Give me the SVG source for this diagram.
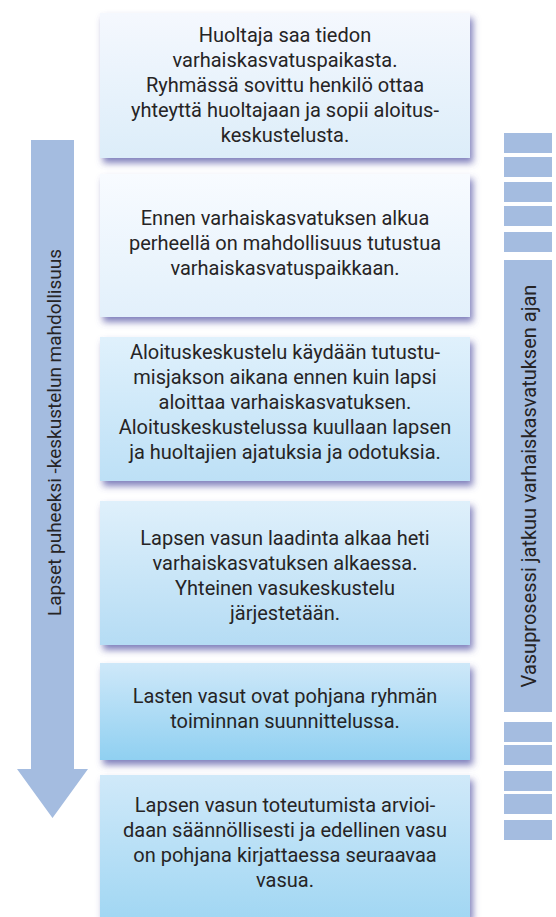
<svg xmlns="http://www.w3.org/2000/svg" width="556" height="917" viewBox="0 0 556 917">
<defs>
<style>
.t{font-family:Roboto,"Liberation Sans",sans-serif;font-size:20px;fill:#262425;text-anchor:middle}
.s{font-family:Roboto,"Liberation Sans",sans-serif;font-size:19px;fill:#262425;text-anchor:middle}
.bar{fill:#a4bce0}
.box{filter:url(#sh)}
</style>
<filter id="sh" x="-10%" y="-20%" width="125%" height="150%">
<feDropShadow dx="3" dy="5" stdDeviation="3.5" flood-color="#5656a6" flood-opacity="0.75"/>
</filter>
<linearGradient id="g1" x1="0" y1="0" x2="0" y2="1"><stop offset="0" stop-color="#f5f8fe"/><stop offset="1" stop-color="#dcedf9"/></linearGradient>
<linearGradient id="g2" x1="0" y1="0" x2="0" y2="1"><stop offset="0" stop-color="#f8fbff"/><stop offset="1" stop-color="#e2f0fb"/></linearGradient>
<linearGradient id="g3" x1="0" y1="0" x2="0" y2="1"><stop offset="0" stop-color="#e0f1fc"/><stop offset="1" stop-color="#bde0f6"/></linearGradient>
<linearGradient id="g4" x1="0" y1="0" x2="0" y2="1"><stop offset="0" stop-color="#dff0fb"/><stop offset="1" stop-color="#b5dcf4"/></linearGradient>
<linearGradient id="g5" x1="0" y1="0" x2="0" y2="1"><stop offset="0" stop-color="#cee8f9"/><stop offset="1" stop-color="#90d0f1"/></linearGradient>
<linearGradient id="g6" x1="0" y1="0" x2="0" y2="1"><stop offset="0" stop-color="#d0e9f9"/><stop offset="1" stop-color="#a2d7f3"/></linearGradient>
</defs>
<rect width="556" height="917" fill="#ffffff"/>

<g id="connectors">
<polygon id="left-arrow" class="bar" points="31,140 74,140 74,769 88,769 52.5,818 17,769 31,769"/>
<text class="s" transform="translate(61,432.5) rotate(-90)">Lapset puheeksi -keskustelun mahdollisuus</text>
</g>

<g id="right-bar">
<rect class="bar" x="504" y="133" width="48" height="20"/>
<rect class="bar" x="504" y="157" width="48" height="20"/>
<rect class="bar" x="504" y="182" width="48" height="20"/>
<rect class="bar" x="504" y="206" width="48" height="20"/>
<rect class="bar" x="504" y="232" width="48" height="20"/>
<rect class="bar" x="504" y="260" width="48" height="452"/>
<rect class="bar" x="504" y="722" width="48" height="20"/>
<rect class="bar" x="504" y="745" width="48" height="20"/>
<rect class="bar" x="504" y="771" width="48" height="20"/>
<rect class="bar" x="504" y="794" width="48" height="20"/>
<rect class="bar" x="504" y="820" width="48" height="20"/>
<text class="t" transform="translate(536,486) rotate(-90)">Vasuprosessi jatkuu varhaiskasvatuksen ajan</text>
</g>

<g id="box1">
<rect class="box" x="100" y="13" width="370" height="145" fill="url(#g1)"/>
<text class="t" x="285" y="42">Huoltaja saa tiedon</text>
<text class="t" x="285" y="67">varhaiskasvatuspaikasta.</text>
<text class="t" x="285" y="92">Ryhmässä sovittu henkilö ottaa</text>
<text class="t" x="285" y="117">yhteyttä huoltajaan ja sopii aloitus-</text>
<text class="t" x="285" y="142">keskustelusta.</text>
</g>

<g id="box2">
<rect class="box" x="100" y="174" width="370" height="143" fill="url(#g2)"/>
<text class="t" x="285" y="225">Ennen varhaiskasvatuksen alkua</text>
<text class="t" x="285" y="250">perheellä on mahdollisuus tutustua</text>
<text class="t" x="285" y="275">varhaiskasvatuspaikkaan.</text>
</g>

<g id="box3">
<rect class="box" x="100" y="337" width="370" height="144" fill="url(#g3)"/>
<text class="t" x="285" y="359">Aloituskeskustelu käydään tutustu-</text>
<text class="t" x="285" y="384">misjakson aikana ennen kuin lapsi</text>
<text class="t" x="285" y="409">aloittaa varhaiskasvatuksen.</text>
<text class="t" x="285" y="434">Aloituskeskustelussa kuullaan lapsen</text>
<text class="t" x="285" y="459">ja huoltajien ajatuksia ja odotuksia.</text>
</g>

<g id="box4">
<rect class="box" x="100" y="501" width="370" height="144" fill="url(#g4)"/>
<text class="t" x="285" y="545">Lapsen vasun laadinta alkaa heti</text>
<text class="t" x="285" y="570">varhaiskasvatuksen alkaessa.</text>
<text class="t" x="285" y="595">Yhteinen vasukeskustelu</text>
<text class="t" x="285" y="620">järjestetään.</text>
</g>

<g id="box5">
<rect class="box" x="100" y="663" width="370" height="97" fill="url(#g5)"/>
<text class="t" x="285" y="703">Lasten vasut ovat pohjana ryhmän</text>
<text class="t" x="285" y="728">toiminnan suunnittelussa.</text>
</g>

<g id="box6">
<rect class="box" x="100" y="775" width="370" height="142" fill="url(#g6)"/>
<text class="t" x="285" y="812">Lapsen vasun toteutumista arvioi-</text>
<text class="t" x="285" y="837">daan säännöllisesti ja edellinen vasu</text>
<text class="t" x="285" y="862">on pohjana kirjattaessa seuraavaa</text>
<text class="t" x="285" y="887">vasua.</text>
</g>
</svg>
